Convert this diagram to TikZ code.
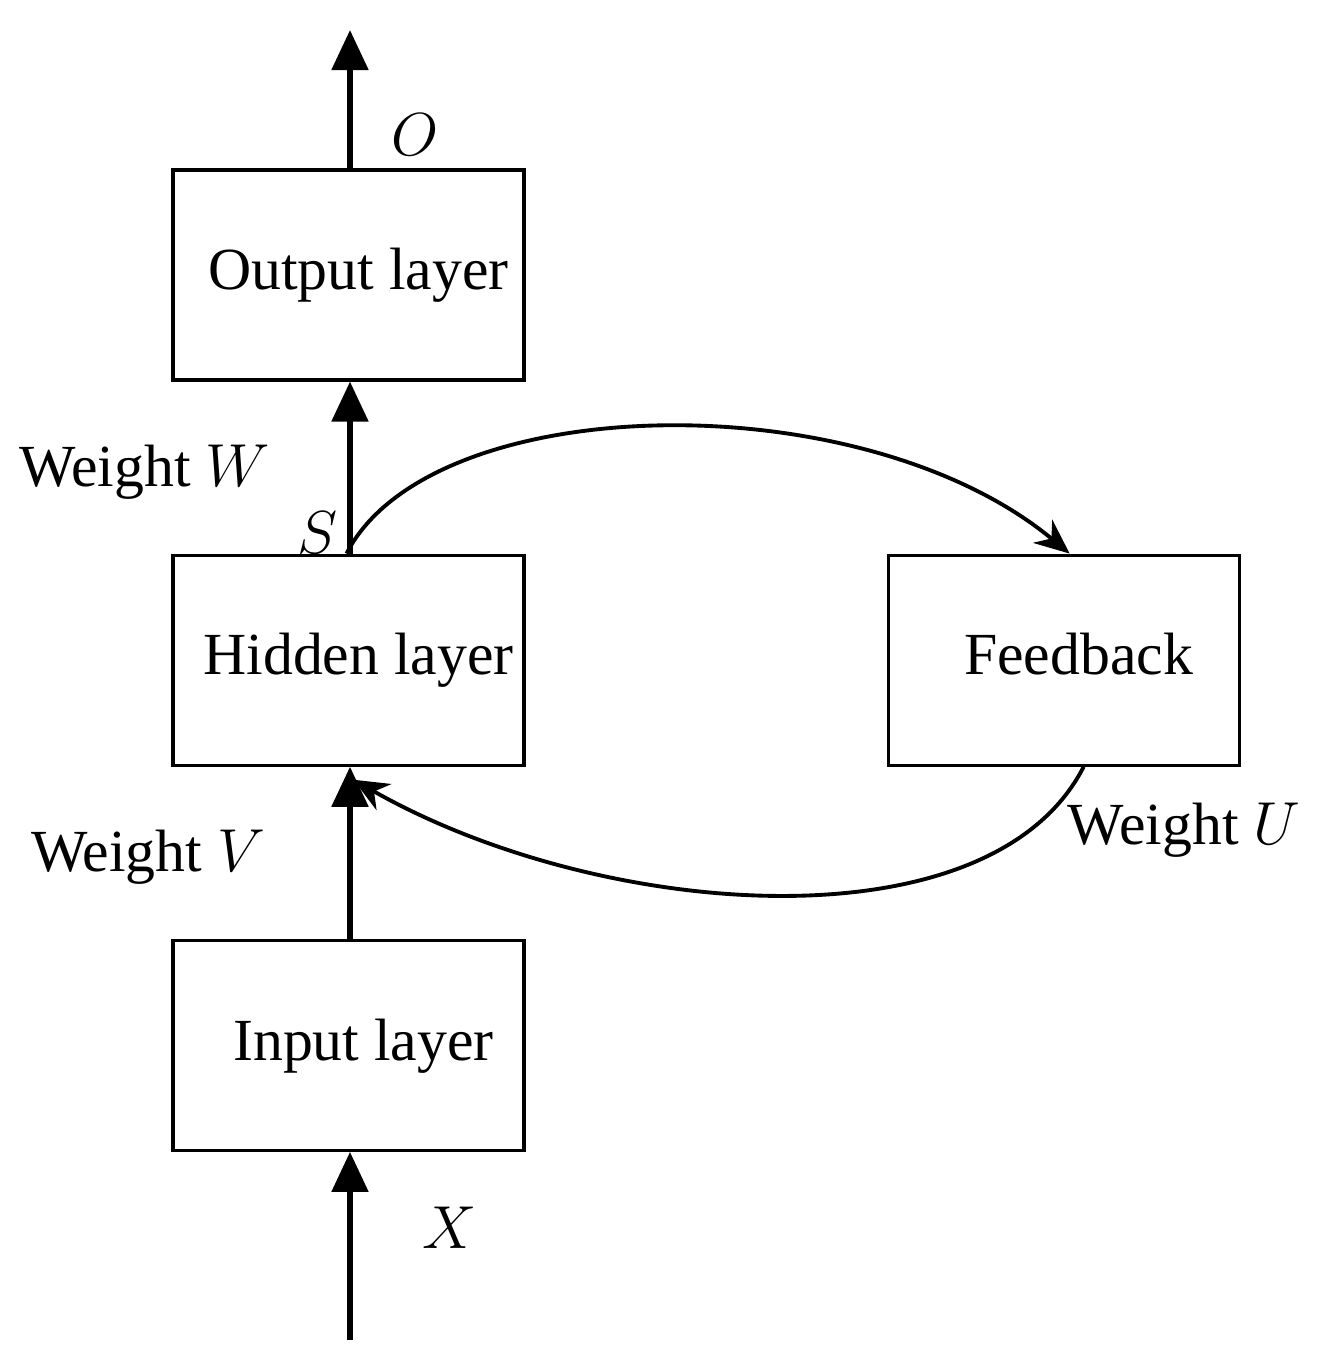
\documentclass[tikz,border=0pt]{standalone}
\usepackage{fontspec}
\setmainfont{Liberation Serif}
\usetikzlibrary{arrows.meta,positioning}
\begin{document}
\begin{tikzpicture}[
node distance = 1.72cm and 3.61cm,
   box/.style = {draw, line width=0.9pt, minimum width=3.51cm, minimum height=2.1cm,
                 inner sep=0pt, text depth=0.12cm, font=\fontsize{17}{20}\selectfont},
   lbl/.style = {font=\fontsize{17}{20}\selectfont, inner sep=0pt},
   flow/.style = {line width=1.5pt, -{Triangle[length=0.4cm,width=0.36cm]}},
   loop/.style = {line width=1.1pt, -{Stealth[length=0.35cm,width=0.3cm]}}
                    ]
\useasboundingbox (0,0) rectangle (13.2,-13.61);
\node (out) [box] at (3.485,-2.75)      {\hspace{0.2cm}Output layer};
\node (hid) [box,below=of out]          {\hspace{0.2cm}Hidden layer};
\node (inp) [box,below=of hid]          {\hspace{0.3cm}Input layer};
\node (fb)  [box,right=of hid]          {\hspace{0.3cm}Feedback};
\coordinate (top) at (3.5,-0.3);
\coordinate (bot) at (3.5,-13.4);
% straight flow
\draw[flow] (out.north -| top) -- (top);
\draw[flow] (hid.north -| top) -- (out.south -| top);
\draw[flow] (inp.north -| top) -- (hid.south -| top);
\draw[flow] (bot) -- (inp.south -| top);
% recurrent loop
\draw[loop] ([xshift=-0.02cm]hid.north) .. controls (4.3,-3.9) and (8.6,-3.8)
            .. ([xshift=0.06cm]fb.north);
\draw[loop] ([xshift=0.2cm]fb.south) .. controls (9.9,-9.5) and (6,-9.2)
            .. ([xshift=0.05cm,yshift=-0.13cm]hid.south);
% labels
\node[lbl] at (4.15,-1.35) {$O$};
\node[lbl] at (1.45,-4.72) {Weight $W$};
\node[lbl] at (3.18,-5.33) {$S$};
\node[lbl] at (1.48,-8.57) {Weight $V$};
\node[lbl] at (4.5,-12.28) {$X$};
\node[lbl] at (11.84,-8.3)  {Weight $U$};
\end{tikzpicture}
\end{document}
